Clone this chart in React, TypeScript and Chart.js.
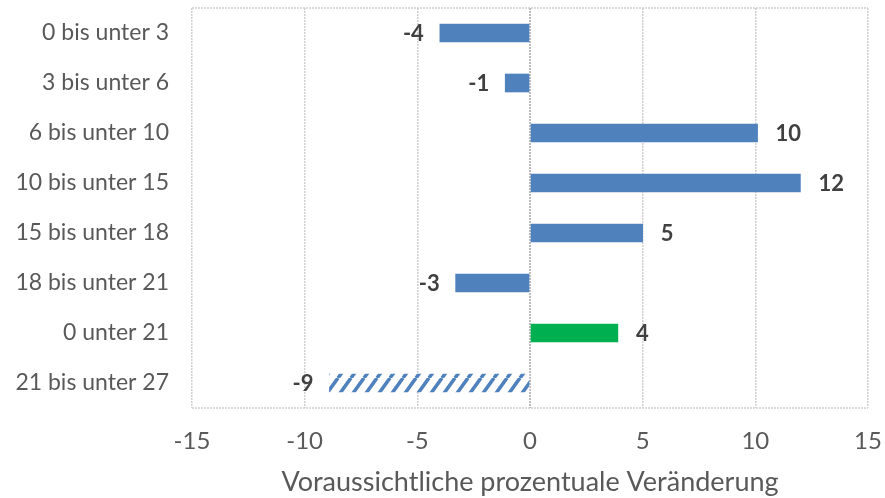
import React, { useEffect, useRef } from "react";
import { Chart, registerables } from "chart.js";

Chart.register(...registerables);

const categories = [
  "0 bis unter 3",
  "3 bis unter 6",
  "6 bis unter 10",
  "10 bis unter 15",
  "15 bis unter 18",
  "18 bis unter 21",
  "0 unter 21",
  "21 bis unter 27",
];
const values = [-4, -1.1, 10.1, 12, 5, -3.3, 3.9, -8.9];
const labels = ["-4", "-1", "10", "12", "5", "-3", "4", "-9"];
const barKinds = ["solid", "solid", "solid", "solid", "solid", "solid", "green", "hatched"];
const axisTitle = "Voraussichtliche prozentuale Veränderung";

const BLUE = "#4f81bd";
const GREEN = "#00b050";
const FONT = "Lato, 'Open Sans', sans-serif";

function makeHatch(): CanvasPattern | string {
  const c = document.createElement("canvas");
  const w = 13;
  const h = 18;
  c.width = w;
  c.height = h;
  const ctx = c.getContext("2d");
  if (!ctx) return BLUE;
  ctx.fillStyle = "#ffffff";
  ctx.fillRect(0, 0, w, h);
  ctx.strokeStyle = BLUE;
  ctx.lineWidth = 3.6;
  ctx.beginPath();
  for (let k = -1; k <= 1; k++) {
    ctx.moveTo(k * w, h);
    ctx.lineTo(k * w + w, 0);
  }
  ctx.stroke();
  const p = ctx.createPattern(c, "repeat");
  return p || BLUE;
}

const labelPlugin = {
  id: "valueLabels",
  afterDatasetsDraw(chart: any) {
    const ctx = chart.ctx;
    const meta = chart.getDatasetMeta(0);
    ctx.save();
    ctx.font = `bold 22px ${FONT}`;
    ctx.fillStyle = "#404040";
    ctx.textBaseline = "middle";
    meta.data.forEach((bar: any, i: number) => {
      const v = values[i];
      if (v >= 0) {
        ctx.textAlign = "left";
        ctx.fillText(labels[i], bar.x + 18, bar.y + 1);
      } else {
        ctx.textAlign = "right";
        ctx.fillText(labels[i], bar.x - 16, bar.y + 1);
      }
    });
    ctx.restore();
  },
};

const framePlugin = {
  id: "frame",
  beforeDatasetsDraw(chart: any) {
    const { ctx, chartArea } = chart;
    ctx.save();
    ctx.strokeStyle = "#d0d0d0";
    ctx.lineWidth = 1.5;
    ctx.setLineDash([2, 1]);
    ctx.beginPath();
    ctx.moveTo(chartArea.left, chartArea.top);
    ctx.lineTo(chartArea.right, chartArea.top);
    ctx.moveTo(chartArea.left, chartArea.bottom);
    ctx.lineTo(chartArea.right, chartArea.bottom);
    ctx.stroke();
    ctx.restore();
  },
};

function zeroPad(s: any) {
  s.paddingTop = 0;
  s.paddingBottom = 0;
  s.paddingLeft = 0;
  s.paddingRight = 0;
}

export default function App() {
  const ref = useRef<HTMLCanvasElement | null>(null);
  useEffect(() => {
    if (!ref.current) return;
    const hatch = makeHatch();
    const colors = barKinds.map((k) => (k === "green" ? GREEN : k === "hatched" ? hatch : BLUE));
    const chart = new Chart(ref.current, {
      type: "bar",
      data: {
        labels: categories,
        datasets: [
          {
            data: values,
            backgroundColor: colors as any,
            borderWidth: 0,
            barThickness: 18,
          },
        ],
      },
      options: {
        indexAxis: "y",
        animation: false,
        responsive: false,
        maintainAspectRatio: false,
        layout: { padding: { top: 8, right: 17, left: 0, bottom: 0 } },
        plugins: {
          legend: { display: false },
          tooltip: { enabled: false },
        },
        scales: {
          x: {
            min: -15,
            max: 15,
            ticks: {
              stepSize: 5,
              padding: 19,
              color: "#595959",
              font: { family: FONT, size: 24 },
              maxRotation: 0,
              autoSkip: false,
            },
            grid: {
              drawTicks: false,
              color: (c: any) => (c.tick && c.tick.value === 0 ? "#bcbcbc" : "#d0d0d0"),
              lineWidth: (c: any) => (c.tick && c.tick.value === 0 ? 2 : 1.5),
            },
            border: { display: false, dash: [2, 1] },
            title: {
              display: true,
              text: axisTitle,
              color: "#595959",
              font: { family: FONT, size: 27 },
              padding: { top: 0, bottom: 0 },
            },
            afterFit: (s: any) => {
              s.height = 90;
              zeroPad(s);
            },
          } as any,
          y: {
            ticks: {
              padding: 23,
              color: "#595959",
              font: { family: FONT, size: 23 },
              autoSkip: false,
            },
            grid: { display: false, drawTicks: false },
            border: { display: false },
            afterFit: (s: any) => {
              s.width = 192;
              zeroPad(s);
            },
          } as any,
        },
      },
      plugins: [framePlugin, labelPlugin],
    });
    return () => chart.destroy();
  }, []);
  return (
    <div style={{ position: "fixed", left: 0, top: 0, width: 885, height: 498, background: "#fff" }}>
      <canvas ref={ref} width={885} height={498} style={{ width: 885, height: 498 }} />
    </div>
  );
}
